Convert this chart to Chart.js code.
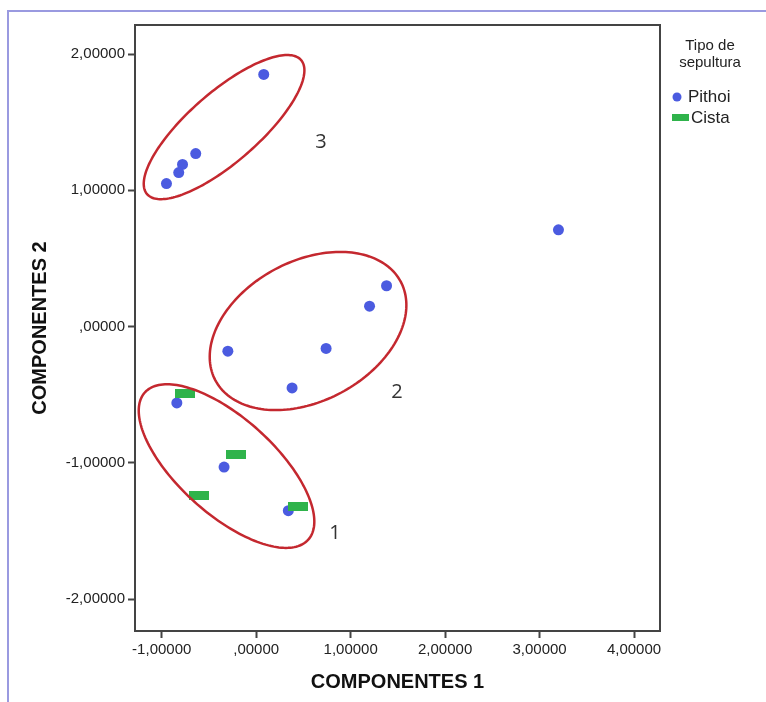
<!DOCTYPE html>
<html>
<head>
<meta charset="utf-8">
<script src="https://cdn.jsdelivr.net/npm/chart.js@4.4.1/dist/chart.umd.min.js"></script>
<style>
  html, body { margin: 0; padding: 0; background: #fff; }
  #wrap { position: relative; width: 766px; height: 702px; overflow: hidden; }
  #frame { position: absolute; left: 7px; top: 10px; right: -4px; bottom: -4px; border-top: 2px solid #9a9ae0; border-left: 2px solid #9a9ae0; }
  canvas { position: absolute; left: 0; top: 0; }
</style>
</head>
<body>
<div id="wrap"><div id="frame"></div><canvas id="chart" width="766" height="702"></canvas></div>
<script>
// Componentes 1 / 2 por tipo de sepultura
const pithoiX = [0.08, -0.64, -0.78, -0.82, -0.95, 3.20, 1.38, 1.20, -0.30, 0.74, 0.38, -0.84, -0.34, 0.34];
const pithoiY = [1.85, 1.27, 1.19, 1.13, 1.05, 0.71, 0.30, 0.15, -0.18, -0.16, -0.45, -0.56, -1.03, -1.35];
const cistaX = [-0.75, -0.21, -0.61, 0.44];
const cistaY = [-0.49, -0.94, -1.24, -1.32];
const xTicks = [-1, 0, 1, 2, 3, 4];
const yTicks = [-2, -1, 0, 1, 2];

// grupos marcados a mano: centro + semiejes (unidades de datos), etiqueta
const grupos = [
  { label: '3', c: [-0.34, 1.464], u: [0.815, 0.492], v: [0.243, -0.194], at: [0.686, 1.354] },
  { label: '2', c: [0.549, -0.032], u: [0.981, 0.362], v: [0.348, -0.453], at: [1.491, -0.48] },
  { label: '1', c: [-0.314, -1.023], u: [0.865, -0.540], v: [-0.340, -0.262], at: [0.835, -1.514] }
];

const BLUE = '#4b5be0';
const GREEN = '#2fb34b';
const RED = '#c4282f';
const AXIS = '#444';

const pts = (xs, ys) => xs.map((x, i) => ({ x, y: ys[i] }));
const fmtTick = (v) => (v === 0 ? ',00000' : v.toFixed(5).replace('.', ','));

const rect = document.createElement('canvas');
rect.width = 20; rect.height = 9;
const rc = rect.getContext('2d');
rc.fillStyle = GREEN; rc.fillRect(0, 0, 20, 9);

const extras = {
  id: 'extras',
  afterDatasetsDraw(chart) {
    const { ctx, chartArea: a, scales: { x, y } } = chart;
    ctx.save();
    // marco del área
    ctx.strokeStyle = AXIS; ctx.lineWidth = 2;
    ctx.strokeRect(a.left, a.top, a.right - a.left, a.bottom - a.top);
    // elipses
    ctx.strokeStyle = RED; ctx.lineWidth = 2.5;
    grupos.forEach((g) => {
      ctx.beginPath();
      for (let i = 0; i <= 180; i++) {
        const t = i / 180 * Math.PI * 2;
        const px = x.getPixelForValue(g.c[0] + g.u[0] * Math.cos(t) + g.v[0] * Math.sin(t));
        const py = y.getPixelForValue(g.c[1] + g.u[1] * Math.cos(t) + g.v[1] * Math.sin(t));
        if (i === 0) ctx.moveTo(px, py); else ctx.lineTo(px, py);
      }
      ctx.closePath(); ctx.stroke();
      ctx.fillStyle = '#333'; ctx.font = '20px "Open Sans", Arial';
      ctx.textAlign = 'center'; ctx.textBaseline = 'middle';
      ctx.fillText(g.label, x.getPixelForValue(g.at[0]), y.getPixelForValue(g.at[1]));
    });
    // leyenda
    ctx.fillStyle = '#222'; ctx.font = '15px Arial';
    ctx.textAlign = 'center'; ctx.textBaseline = 'middle';
    ctx.fillText('Tipo de', 710, 46);
    ctx.fillText('sepultura', 710, 63);
    ctx.fillStyle = BLUE;
    ctx.beginPath(); ctx.arc(677, 97, 4.5, 0, Math.PI * 2); ctx.fill();
    ctx.fillStyle = GREEN; ctx.fillRect(672, 114, 17, 7);
    ctx.fillStyle = '#222'; ctx.font = '17px Arial'; ctx.textAlign = 'left';
    ctx.fillText('Pithoi', 688, 97);
    ctx.fillText('Cista', 691, 118);
    ctx.restore();
  }
};

new Chart(document.getElementById('chart'), {
  type: 'scatter',
  data: {
    datasets: [
      { label: 'Cista', data: pts(cistaX, cistaY), pointStyle: rect, order: 0 },
      { label: 'Pithoi', data: pts(pithoiX, pithoiY), pointStyle: 'circle', pointRadius: 5.5, backgroundColor: BLUE, borderColor: BLUE, borderWidth: 0, order: 1 }
    ]
  },
  options: {
    responsive: false, animation: false, devicePixelRatio: 1,
    layout: { padding: { top: 25, right: 106, bottom: 0, left: 0 } },
    plugins: { legend: { display: false }, tooltip: { enabled: false } },
    scales: {
      x: {
        type: 'linear', min: -1.283, max: 4.275,
        afterBuildTicks: (s) => { s.ticks = xTicks.map((v) => ({ value: v })); },
        afterFit: (s) => { s.height = 71; },
        ticks: { callback: fmtTick, color: '#222', font: { family: 'Arial', size: 15 }, padding: 3, maxRotation: 0 },
        grid: { drawOnChartArea: false, tickLength: 7, tickColor: AXIS, tickWidth: 2 },
        border: { display: false },
        title: { display: true, text: 'COMPONENTES 1', color: '#111', font: { family: 'Arial', size: 20, weight: 'bold' }, padding: { top: 0, bottom: 8 } }
      },
      y: {
        type: 'linear', min: -2.233, max: 2.213,
        afterBuildTicks: (s) => { s.ticks = yTicks.map((v) => ({ value: v })); },
        afterFit: (s) => { s.width = 135; },
        ticks: { callback: fmtTick, color: '#222', font: { family: 'Arial', size: 15 }, padding: 3 },
        grid: { drawOnChartArea: false, tickLength: 7, tickColor: AXIS, tickWidth: 2 },
        border: { display: false },
        title: { display: true, text: 'COMPONENTES 2', color: '#111', font: { family: 'Arial', size: 20, weight: 'bold' }, padding: { top: 28, bottom: 0 } }
      }
    }
  },
  plugins: [extras]
});
</script>
</body>
</html>
